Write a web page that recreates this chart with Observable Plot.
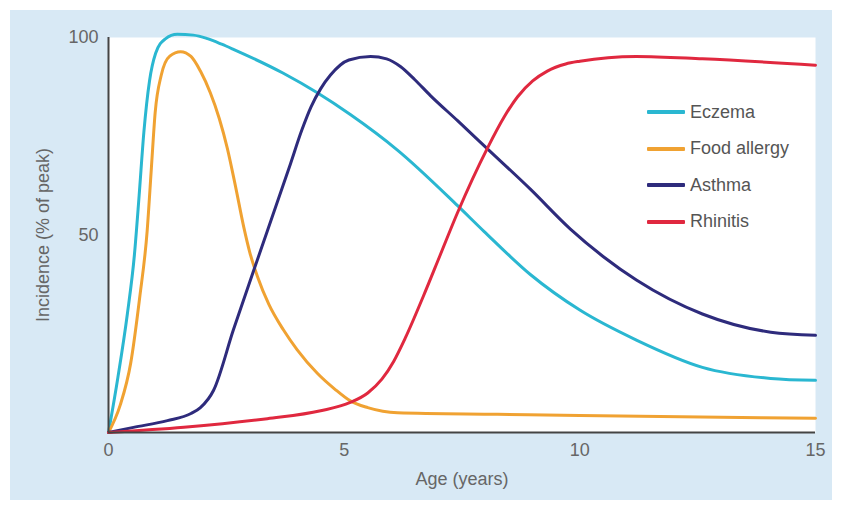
<!DOCTYPE html>
<html>
<head>
<meta charset="utf-8">
<script src="https://cdn.jsdelivr.net/npm/d3@7"></script>
<script src="https://cdn.jsdelivr.net/npm/@observablehq/plot@0.6"></script>
<style>
  html, body { margin: 0; padding: 0; background: #ffffff; }
  #wrap { position: relative; width: 842px; height: 508px; overflow: hidden; }
  #panel { position: absolute; left: 10px; top: 10px; width: 822px; height: 490px; background: #d8e9f5; }
  #chart { position: absolute; left: 0; top: 0; }
  #legend { position: absolute; left: 647px; top: 94px; font-family: "Liberation Sans", Arial, sans-serif; font-size: 18px; color: #555; }
  .row { display: flex; align-items: center; height: 36.5px; }
  .sw { width: 38px; height: 4px; margin-right: 5px; border-radius: 1px; }
</style>
</head>
<body>
<div id="wrap">
  <div id="panel"></div>
  <div id="chart"></div>
  <div id="legend"></div>
</div>
<script>
// Series names and colours
const seriesNames = ["Eczema", "Food allergy", "Asthma", "Rhinitis"];
const seriesColors = ["#2ab7d1", "#f0a232", "#2e2b7c", "#e0283f"];

// Eczema
const eczemaAge = [0, 0.2, 0.4, 0.55, 0.65, 0.75, 0.87, 1.0, 1.2, 1.46, 1.8, 2.1, 2.4, 2.65, 3.7, 4.43, 5.13, 6.13, 7.4, 7.96, 8.95, 10, 11.2, 12.6, 14.05, 15];
const eczemaVal = [0, 14, 30, 45, 60, 76, 89, 96, 99.6, 100.8, 100.6, 99.7, 98.3, 97, 91, 86, 80.5, 71.5, 57.5, 51, 40, 31, 23.4, 16.5, 13.7, 13.2];

// Food allergy
const foodAge = [0, 0.25, 0.47, 0.66, 0.82, 0.91, 0.99, 1.12, 1.3, 1.53, 1.75, 1.95, 2.16, 2.35, 2.52, 2.7, 2.87, 3.0, 3.16, 3.4, 3.71, 4.0, 4.43, 4.8, 5.13, 5.5, 6.13, 8.25, 10, 15];
const foodVal = [0, 7, 17.5, 34, 51, 67, 81, 90.5, 95.3, 96.4, 95.2, 91.5, 86, 79.5, 72, 62, 52, 45.5, 39.5, 32.5, 26, 21, 15, 11, 8, 6.3, 5, 4.6, 4.3, 3.6];

// Asthma
const asthmaAge = [0, 0.53, 1.25, 1.75, 1.95, 2.23, 2.65, 3.08, 3.37, 3.86, 4.1, 4.3, 4.5, 4.71, 5.1, 5.56, 5.9, 6.2, 6.5, 6.83, 7.4, 8.04, 8.95, 9.8, 10.5, 11.2, 12.6, 14.05, 15];
const asthmaVal = [0, 1.3, 3, 4.8, 6.3, 10.7, 26, 41, 51, 68, 76.5, 82.5, 87, 90.5, 94.3, 95.2, 94.6, 92.6, 89.3, 85.3, 79, 71.8, 61.6, 51.5, 44.5, 38.6, 30, 25.4, 24.6];

// Rhinitis
const rhinitisAge = [0, 1.6, 3.37, 4.5, 5.13, 5.5, 5.8, 6.05, 6.3, 6.68, 7.04, 7.4, 8.04, 8.4, 8.68, 9.0, 9.31, 9.7, 10, 11.2, 12.6, 15];
const rhinitisVal = [0, 1.3, 3.5, 5.5, 7.6, 10, 13.5, 18, 24, 34.5, 45, 55.5, 72, 80, 85, 89, 91.5, 93.3, 94, 95.2, 94.6, 93];

// Axis ticks
const xTicks = [0, 5, 10, 15];
const yTicks = [50, 100];

const ages = [eczemaAge, foodAge, asthmaAge, rhinitisAge];
const vals = [eczemaVal, foodVal, asthmaVal, rhinitisVal];
const data = seriesNames.flatMap((name, i) => ages[i].map((a, j) => ({series: name, age: a, value: vals[i][j]})));

const font = '"Liberation Sans", Arial, sans-serif';

const chart = Plot.plot({
  width: 842,
  height: 508,
  marginLeft: 108,
  marginRight: 27,
  marginTop: 37,
  marginBottom: 76,
  style: {background: "transparent", fontFamily: font, fontSize: "18px", color: "#666"},
  x: {domain: [0, 15], ticks: xTicks, tickSize: 0, tickPadding: 11, label: "Age (years)", labelAnchor: "center", labelOffset: 52, labelArrow: "none"},
  y: {domain: [0, 100], ticks: yTicks, tickSize: 0, tickPadding: 10, label: "Incidence (% of peak)", labelAnchor: "center", labelOffset: 72, labelArrow: "none"},
  color: {domain: seriesNames, range: seriesColors},
  marks: [
    Plot.frame({fill: "white", stroke: "none"}),
    Plot.line(data, {x: "age", y: "value", z: "series", stroke: "series", strokeWidth: 3, curve: "monotone-x"}),
    Plot.ruleX([0], {stroke: "#444", strokeWidth: 2}),
    Plot.ruleY([0], {stroke: "#444", strokeWidth: 2})
  ]
});
document.getElementById("chart").appendChild(chart);

const legend = document.getElementById("legend");
seriesNames.forEach((n, i) => {
  const row = document.createElement("div");
  row.className = "row";
  const sw = document.createElement("div");
  sw.className = "sw";
  sw.style.background = seriesColors[i];
  const t = document.createElement("span");
  t.textContent = n;
  row.appendChild(sw);
  row.appendChild(t);
  legend.appendChild(row);
});
</script>
</body>
</html>
